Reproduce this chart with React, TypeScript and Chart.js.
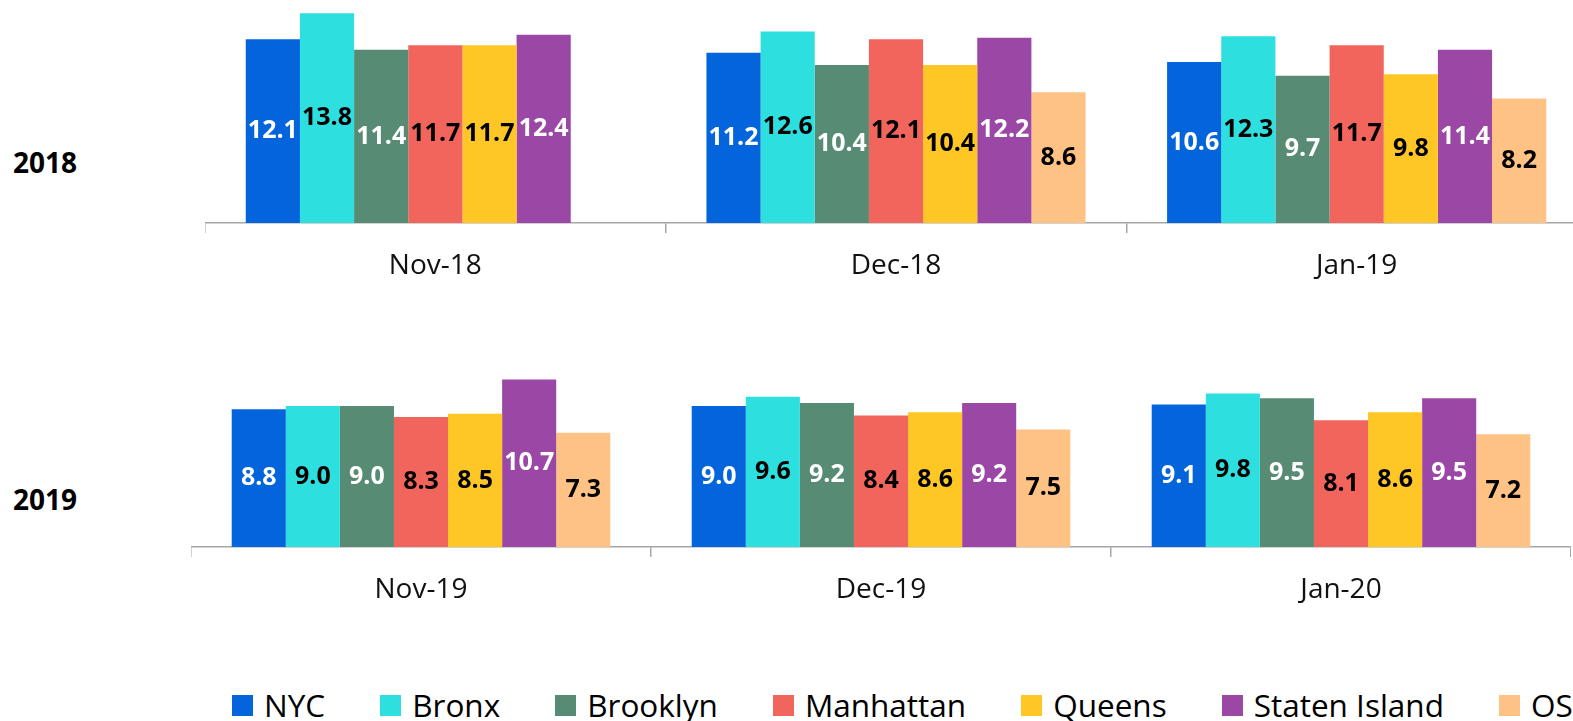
import React, { useEffect, useRef } from "react";
import { Chart, registerables } from "chart.js";

Chart.register(...registerables);

const SERIES = ["NYC", "Bronx", "Brooklyn", "Manhattan", "Queens", "Staten Island", "OS"];
const COLORS = ["#0364DB", "#2DE0DF", "#578B73", "#F1655D", "#FFC726", "#9B47A5", "#FFC285"];
const LABEL_COLORS = ["#FFFFFF", "#000000", "#FFFFFF", "#000000", "#000000", "#FFFFFF", "#000000"];

const CATEGORIES_2018 = ["Nov-18", "Dec-18", "Jan-19"];
const CATEGORIES_2019 = ["Nov-19", "Dec-19", "Jan-20"];

// values per series: [month1, month2, month3]
const NYC_2018 = [12.1, 11.2, 10.6];
const BRONX_2018 = [13.8, 12.6, 12.3];
const BROOKLYN_2018 = [11.4, 10.4, 9.7];
const MANHATTAN_2018 = [11.7, 12.1, 11.7];
const QUEENS_2018 = [11.7, 10.4, 9.8];
const STATEN_2018 = [12.4, 12.2, 11.4];
const OS_2018 = [null, 8.6, 8.2];

const NYC_2019 = [8.8, 9.0, 9.1];
const BRONX_2019 = [9.0, 9.6, 9.8];
const BROOKLYN_2019 = [9.0, 9.2, 9.5];
const MANHATTAN_2019 = [8.3, 8.4, 8.1];
const QUEENS_2019 = [8.5, 8.6, 8.6];
const STATEN_2019 = [10.7, 9.2, 9.5];
const OS_2019 = [7.3, 7.5, 7.2];

const DATA_2018 = [NYC_2018, BRONX_2018, BROOKLYN_2018, MANHATTAN_2018, QUEENS_2018, STATEN_2018, OS_2018];
const DATA_2019 = [NYC_2019, BRONX_2019, BROOKLYN_2019, MANHATTAN_2019, QUEENS_2019, STATEN_2019, OS_2019];

const FONT = '"Open Sans", "DejaVu Sans", sans-serif';

const barLabelPlugin = {
  id: "barLabels",
  afterDatasetsDraw(chart: any) {
    const ctx = chart.ctx;
    ctx.save();
    ctx.font = `700 25px ${FONT}`;
    ctx.textAlign = "center";
    ctx.textBaseline = "middle";
    chart.data.datasets.forEach((ds: any, i: number) => {
      const meta = chart.getDatasetMeta(i);
      meta.data.forEach((bar: any, j: number) => {
        const v = ds.data[j];
        if (v == null) return;
        const p = bar.getProps(["x", "y", "base"], true);
        ctx.fillStyle = LABEL_COLORS[i];
        ctx.fillText(Number(v).toFixed(1), p.x, (p.y + p.base) / 2);
      });
    });
    ctx.restore();
  },
};

function makeConfig(categories: string[], data: (number | null)[][], yMax: number): any {
  return {
    type: "bar",
    data: {
      labels: categories,
      datasets: SERIES.map((name, i) => ({
        label: name,
        data: data[i],
        backgroundColor: COLORS[i],
        borderWidth: 0,
        barPercentage: 1.0,
        categoryPercentage: 0.823,
      })),
    },
    options: {
      responsive: false,
      animation: false,
      devicePixelRatio: 1,
      layout: { padding: 0 },
      plugins: {
        legend: { display: false },
        tooltip: { enabled: false },
        title: { display: false },
      },
      scales: {
        x: {
          offset: true,
          grid: {
            display: true,
            drawOnChartArea: false,
            drawTicks: true,
            tickLength: 10,
            color: "#A6A6A6",
            lineWidth: 1.5,
          },
          border: { display: true, color: "#A6A6A6", width: 1.5 },
          ticks: {
            color: "#111111",
            font: { family: FONT, size: 28 },
            padding: 16,
            maxRotation: 0,
            autoSkip: false,
          },
          afterFit: (scale: any) => {
            scale.height = 80;
          },
        },
        y: {
          display: false,
          min: 0,
          max: yMax,
        },
      },
    },
    plugins: [barLabelPlugin],
  };
}

function BarPanel(props: {
  categories: string[];
  data: (number | null)[][];
  yMax: number;
  left: number;
  top: number;
  width: number;
  height: number;
}) {
  const ref = useRef<HTMLCanvasElement | null>(null);
  useEffect(() => {
    if (!ref.current) return;
    const chart = new Chart(ref.current, makeConfig(props.categories, props.data, props.yMax));
    return () => chart.destroy();
  }, []);
  return (
    <div style={{ position: "absolute", left: props.left, top: props.top, width: props.width, height: props.height }}>
      <canvas ref={ref} width={props.width} height={props.height} style={{ display: "block" }} />
    </div>
  );
}

export default function App() {
  return (
    <div
      style={{
        position: "fixed",
        left: 0,
        top: 0,
        width: 1573,
        height: 721,
        overflow: "hidden",
        background: "#FFFFFF",
        fontFamily: FONT,
      }}
    >
      <div style={{ position: "absolute", left: 13, top: 148, fontWeight: 700, fontSize: 28, lineHeight: "28px", color: "#000" }}>
        2018
      </div>
      <div style={{ position: "absolute", left: 13, top: 485, fontWeight: 700, fontSize: 28, lineHeight: "28px", color: "#000" }}>
        2019
      </div>
      <BarPanel categories={CATEGORIES_2018} data={DATA_2018} yMax={14.68} left={205} top={0} width={1382} height={303} />
      <BarPanel categories={CATEGORIES_2019} data={DATA_2019} yMax={13.79} left={191} top={331} width={1380} height={296} />
      <div
        style={{
          position: "absolute",
          left: 232,
          top: 689,
          display: "flex",
          alignItems: "center",
          whiteSpace: "nowrap",
          fontSize: 31.5,
          lineHeight: "32px",
          color: "#000",
        }}
      >
        {SERIES.map((name, i) => (
          <div key={name} style={{ display: "flex", alignItems: "center", marginRight: i < SERIES.length - 1 ? 55 : 0 }}>
            <span style={{ display: "inline-block", width: 21, height: 21, background: COLORS[i], marginRight: 11 }} />
            <span>{name}</span>
          </div>
        ))}
      </div>
    </div>
  );
}
